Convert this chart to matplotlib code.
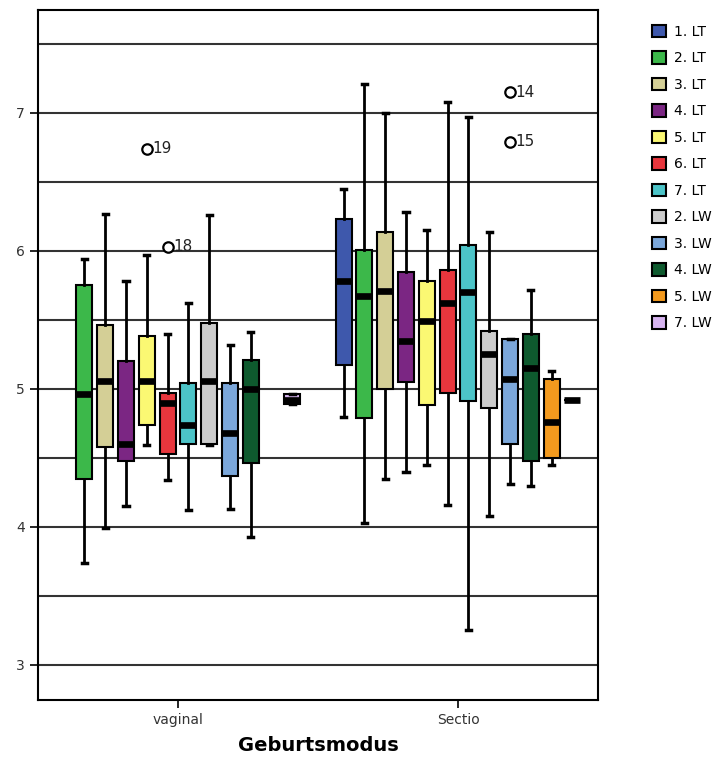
import numpy as np
import matplotlib
matplotlib.use('Agg')
import matplotlib.pyplot as plt
from matplotlib.patches import Patch

# Gruppen und Serien
gruppen = ['vaginal', 'Sectio']
serien = ['1. LT', '2. LT', '3. LT', '4. LT', '5. LT', '6. LT', '7. LT',
          '2. LW', '3. LW', '4. LW', '5. LW', '7. LW']
farben = ['#3E58AC', '#3CB84A', '#D4CF96', '#7B2683', '#FBF873', '#E8363D',
          '#4CC4C8', '#CCCCCC', '#7BA7DA', '#0E5A2E', '#F39A1E', '#D7B4F0']

# Kennwerte je Serie: [whislo, q1, median, q3, whishi], None = keine Daten
vaginal = [
    None,
    [3.74, 4.35, 4.96, 5.75, 5.94],
    [3.99, 4.58, 5.06, 5.46, 6.27],
    [4.15, 4.48, 4.60, 5.20, 5.78],
    [4.59, 4.74, 5.06, 5.38, 5.97],
    [4.34, 4.53, 4.90, 4.97, 5.40],
    [4.12, 4.60, 4.74, 5.04, 5.62],
    [4.59, 4.60, 5.06, 5.48, 6.26],
    [4.13, 4.37, 4.68, 5.04, 5.32],
    [3.93, 4.46, 5.00, 5.21, 5.41],
    None,
    [4.89, 4.89, 4.92, 4.96, 4.96],
]
sectio = [
    [4.80, 5.17, 5.78, 6.23, 6.45],
    [4.03, 4.79, 5.67, 6.01, 7.21],
    [4.35, 5.00, 5.71, 6.14, 7.00],
    [4.40, 5.05, 5.35, 5.85, 6.28],
    [4.45, 4.88, 5.49, 5.78, 6.15],
    [4.16, 4.97, 5.62, 5.86, 7.08],
    [3.25, 4.91, 5.70, 6.04, 6.97],
    [4.08, 4.86, 5.25, 5.42, 6.14],
    [4.31, 4.60, 5.07, 5.36, 5.36],
    [4.30, 4.48, 5.15, 5.40, 5.72],
    [4.45, 4.50, 4.76, 5.07, 5.13],
    [4.92, 4.92, 4.92, 4.92, 4.92],
]
# Ausreisser: (Gruppe, Serie, Wert, Fallnummer)
ausreisser = [
    (0, 4, 6.74, '19'),
    (0, 5, 6.03, '18'),
    (1, 8, 7.15, '14'),
    (1, 8, 6.79, '15'),
]

fig = plt.figure(figsize=(7.27, 7.64), dpi=100)
ax = fig.add_axes([0.0523, 0.0838, 0.7703, 0.9032])

zentren = [0.5, 1.5]
abstand = 0.0743
breite = 0.057

for g, daten in enumerate([vaginal, sectio]):
    for i, werte in enumerate(daten):
        if werte is None:
            continue
        pos = zentren[g] + (i - 5.5) * abstand
        stats = [dict(whislo=werte[0], q1=werte[1], med=werte[2],
                      q3=werte[3], whishi=werte[4], fliers=[])]
        ax.bxp(stats, positions=[pos], widths=breite, patch_artist=True,
               showfliers=False, capwidths=0.018,
               boxprops=dict(facecolor=farben[i], edgecolor='black', linewidth=1.5),
               medianprops=dict(color='black', linewidth=4.8, solid_capstyle='butt'),
               whiskerprops=dict(color='black', linewidth=2),
               capprops=dict(color='black', linewidth=2.5),
               zorder=3)

for g, i, wert, nr in ausreisser:
    pos = zentren[g] + (i - 5.5) * abstand
    ax.plot(pos, wert, 'o', mfc='white', mec='black', ms=7.5, mew=1.6, zorder=4)
    ax.text(pos + 0.02, wert, nr, fontsize=11, va='center', ha='left', color='#222222')

ax.set_xlim(0, 2)
ax.set_ylim(2.746, 7.746)
ax.set_yticks([3, 4, 5, 6, 7])
for y in np.arange(3.0, 7.6, 0.5):
    ax.axhline(y, color='#333333', linewidth=1.5, zorder=1)

ax.set_xticks(zentren)
ax.set_xticklabels(gruppen)
ax.tick_params(axis='both', direction='out', length=6, width=1.2,
               labelsize=10, labelcolor='#333333')
for s in ax.spines.values():
    s.set_linewidth(1.5)
ax.set_xlabel('Geburtsmodus', fontsize=14, fontweight='bold', labelpad=6)

handles = [Patch(facecolor=c, edgecolor='black', linewidth=1.5) for c in farben]
fig.legend(handles, serien, loc='upper left', bbox_to_anchor=(0.88, 0.984),
           frameon=False, fontsize=10, handlelength=1.0, handleheight=1.0,
           labelspacing=0.9, handletextpad=0.6)

fig.savefig('out.png', dpi=100)
